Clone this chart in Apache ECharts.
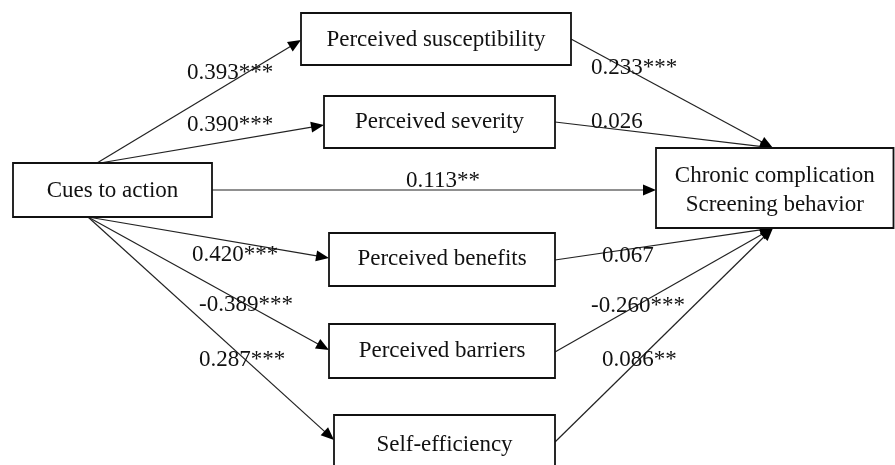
<!DOCTYPE html>
<html>
<head>
<meta charset="utf-8">
<script src="https://cdn.jsdelivr.net/npm/echarts@6/dist/echarts.min.js"></script>
<style>
html,body{margin:0;padding:0;background:#fff;}
#chart{width:895px;height:465px;}
</style>
</head>
<body>
<div id="chart"></div>
<script>
// ---- DATA ----
const nodeNames = [
  'Cues to action',
  'Perceived susceptibility',
  'Perceived severity',
  'Perceived benefits',
  'Perceived barriers',
  'Self-efficiency',
  'Chronic complication\nScreening behavior'
];
const pathFrom = [0, 0, 0, 0, 0, 0, 1, 2, 3, 4, 5];
const pathTo   = [1, 2, 6, 3, 4, 5, 6, 6, 6, 6, 6];
const pathCoef = [0.393, 0.390, 0.113, 0.420, -0.389, 0.287, 0.233, 0.026, 0.067, -0.260, 0.086];
const pathSig  = ['***', '***', '**', '***', '***', '***', '***', '', '', '***', '**'];

// ---- LAYOUT (diagram coordinates, not data) ----
const W = 895, H = 465;
const boxLayout = [
  [13, 163, 212, 217],
  [301, 13, 571, 65],
  [324, 96, 555, 148],
  [329, 233, 555, 286],
  [329, 324, 555, 378],
  [334, 415, 555, 472],
  [656, 148, 893.5, 228]
];
const boxTextY = [191, 40, 122, 259, 351, 445, 190];
// [fromSide, fromPos, toSide, toPos]
const edgePorts = [
  ['top', 97, 'left', 40],
  ['top', 100, 'left', 125],
  ['right', 190, 'left', 190],
  ['bottom', 88, 'left', 258],
  ['bottom', 88, 'left', 350],
  ['bottom', 88, 'left', 440],
  ['right', 39, 'top', 773],
  ['right', 122, 'top', 773],
  ['right', 260, 'bottom', 773],
  ['right', 352, 'bottom', 773],
  ['right', 442, 'bottom', 773]
];
const labelPos = [
  [187, 73], [187, 125], [406, 181], [192, 255], [199, 305], [199, 360],
  [591, 68], [591, 122], [602, 256], [591, 306], [602, 360]
];
const FONT = '"Liberation Serif", "Times New Roman", "DejaVu Serif", serif';
const FS = 23;

function port(b, side, v) {
  const r = boxLayout[b];
  if (side === 'top') return [v, r[1]];
  if (side === 'bottom') return [v, r[3]];
  if (side === 'left') return [r[0], v];
  return [r[2], v];
}

const boxData = nodeNames.map((n, i) => [i]);
const edgeData = pathFrom.map((f, i) => {
  const p = edgePorts[i];
  const a = port(f, p[0], p[1]);
  const b = port(pathTo[i], p[2], p[3]);
  return [a[0], a[1], b[0], b[1], i];
});

const chart = echarts.init(document.getElementById('chart'), null, {renderer: 'canvas'});
chart.setOption({
  backgroundColor: '#ffffff',
  animation: false,
  grid: {left: 0, right: 0, top: 0, bottom: 0},
  xAxis: {type: 'value', min: 0, max: W, show: false},
  yAxis: {type: 'value', min: 0, max: H, inverse: true, show: false},
  series: [
    {
      type: 'custom',
      coordinateSystem: 'cartesian2d',
      data: edgeData,
      z: 2,
      renderItem: function (params, api) {
        const i = api.value(4);
        const p1 = api.coord([api.value(0), api.value(1)]);
        const p2 = api.coord([api.value(2), api.value(3)]);
        const dx = p2[0] - p1[0], dy = p2[1] - p1[1];
        const len = Math.sqrt(dx * dx + dy * dy);
        const ux = dx / len, uy = dy / len;
        const L = 13, hw = 5.5;
        const bx = p2[0] - ux * L, by = p2[1] - uy * L;
        const lp = api.coord(labelPos[i]);
        const txt = pathCoef[i].toFixed(3) + pathSig[i];
        return {
          type: 'group',
          children: [
            {
              type: 'line',
              shape: {x1: p1[0], y1: p1[1], x2: bx + ux * 2, y2: by + uy * 2},
              style: {stroke: '#222', lineWidth: 1.2}
            },
            {
              type: 'polygon',
              shape: {points: [[p2[0], p2[1]], [bx - uy * hw, by + ux * hw], [bx + uy * hw, by - ux * hw]]},
              style: {fill: '#000'}
            },
            {
              type: 'text',
              x: lp[0], y: lp[1],
              style: {
                text: txt, fill: '#111', font: FS + 'px ' + FONT,
                align: 'left', verticalAlign: 'middle'
              }
            }
          ]
        };
      }
    },
    {
      type: 'custom',
      coordinateSystem: 'cartesian2d',
      data: boxData,
      z: 3,
      renderItem: function (params, api) {
        const i = api.value(0);
        const r = boxLayout[i];
        const a = api.coord([r[0], r[1]]);
        const b = api.coord([r[2], r[3]]);
        const c = api.coord([(r[0] + r[2]) / 2, boxTextY[i]]);
        return {
          type: 'group',
          children: [
            {
              type: 'rect',
              shape: {x: a[0], y: a[1], width: b[0] - a[0], height: b[1] - a[1]},
              style: {fill: '#fff', stroke: '#111', lineWidth: 1.8}
            },
            {
              type: 'text',
              x: c[0], y: c[1],
              style: {
                text: nodeNames[i], fill: '#111', font: FS + 'px ' + FONT,
                align: 'center', verticalAlign: 'middle', lineHeight: 29
              }
            }
          ]
        };
      }
    }
  ]
});
</script>
</body>
</html>
